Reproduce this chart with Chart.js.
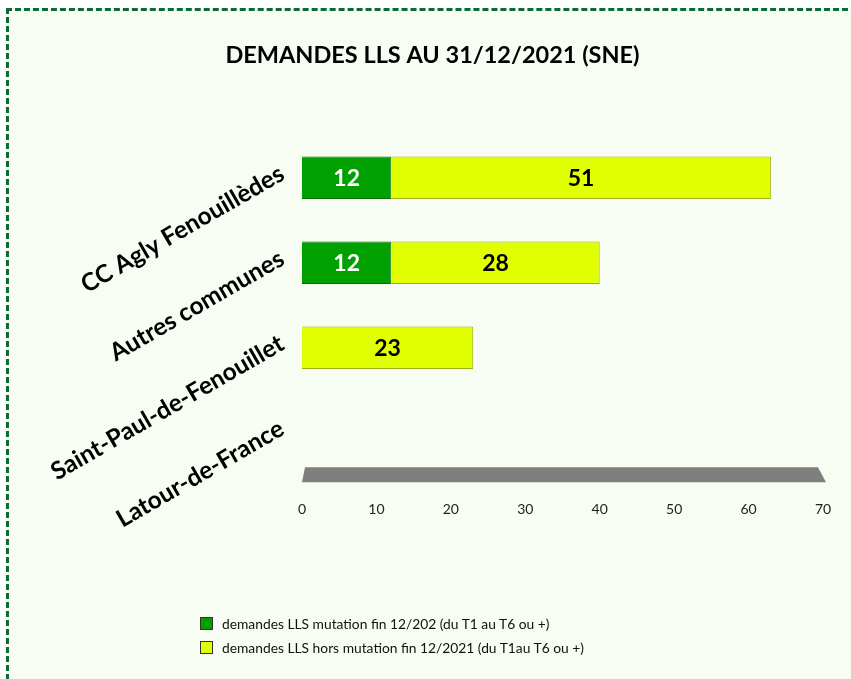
<!DOCTYPE html>
<html>
<head>
<meta charset="utf-8">
<script src="https://cdn.jsdelivr.net/npm/chart.js@4/dist/chart.umd.min.js"></script>
<style>
  html, body { margin:0; padding:0; background:#ffffff; }
  #frame {
    position:absolute; left:6px; top:8px; width:860px; height:690px;
    border:3px dashed #0a6b35; background:#f8fdf3; box-sizing:border-box;
  }
  #wrap { position:absolute; left:0; top:0; width:851px; height:679px; }
  #legend {
    position:absolute; left:200px; top:611px;
    font-family:Lato, "Open Sans", sans-serif; font-size:13.8px; color:#111;
  }
  #legend .item { display:flex; align-items:center; height:24px; }
  #legend .box { width:11px; height:11px; border:1px solid #333; margin-right:9px; }
</style>
</head>
<body>
<div id="frame"></div>
<div id="wrap"><canvas id="chart" width="851" height="679"></canvas></div>
<div id="legend"></div>
<script>
// ── data ──────────────────────────────────────────────────────────────
const categories   = ['CC Agly Fenouillèdes', 'Autres communes', 'Saint-Paul-de-Fenouillet', 'Latour-de-France'];
const mutation     = [12, 12, 0, 0];
const horsMutation = [51, 28, 23, 0];
const seriesNames  = [
  'demandes LLS mutation fin 12/202 (du T1 au T6 ou +)',
  'demandes LLS hors mutation fin 12/2021 (du T1au T6 ou +)'
];
const xTicks = [0, 10, 20, 30, 40, 50, 60, 70];

const GREEN  = '#00a000';
const YELLOW = '#e0ff00';
const FONT   = 'Lato, "Open Sans", sans-serif';

// grey 3D floor under the bars
const floorPlugin = {
  id: 'floor',
  beforeDatasetsDraw(chart) {
    const { ctx, chartArea } = chart;
    const x = chart.scales.x;
    const x0 = x.getPixelForValue(xTicks[0]);
    const x1 = x.getPixelForValue(xTicks[xTicks.length - 1]);
    const b = chartArea.bottom;
    ctx.save();
    ctx.fillStyle = '#7f7f7f';
    ctx.beginPath();
    ctx.moveTo(x0 + 3, b - 8);
    ctx.lineTo(x1 - 5, b - 8);
    ctx.lineTo(x1 + 3, b + 7);
    ctx.lineTo(x0, b + 7);
    ctx.closePath();
    ctx.fill();
    ctx.restore();
  }
};

// value labels centred in each segment
const valuePlugin = {
  id: 'values',
  afterDatasetsDraw(chart) {
    const { ctx } = chart;
    ctx.save();
    ctx.font = 'bold 23px ' + FONT;
    ctx.textAlign = 'center';
    ctx.textBaseline = 'middle';
    chart.data.datasets.forEach((ds, di) => {
      chart.getDatasetMeta(di).data.forEach((bar, i) => {
        const v = ds.data[i];
        if (!v) return;
        ctx.fillStyle = di === 0 ? '#ffffff' : '#000000';
        ctx.fillText(v, (bar.x + bar.base) / 2, bar.y + 1);
      });
    });
    ctx.restore();
  }
};

const chart = new Chart(document.getElementById('chart'), {
  type: 'bar',
  data: {
    labels: categories,
    datasets: [
      { label: seriesNames[0], data: mutation, backgroundColor: GREEN,
        borderColor: '#0b6a0b', borderWidth: 1 },
      { label: seriesNames[1], data: horsMutation, backgroundColor: YELLOW,
        borderColor: '#9fae1a', borderWidth: 1 }
    ]
  },
  options: {
    indexAxis: 'y',
    responsive: false,
    animation: false,
    categoryPercentage: 1,
    barPercentage: 0.5,
    layout: { padding: { left: 42, right: 28, top: 0, bottom: 135 } },
    plugins: {
      legend: { display: false },
      tooltip: { enabled: false },
      title: {
        display: true,
        text: 'DEMANDES LLS AU 31/12/2021 (SNE)',
        color: '#000',
        font: { family: FONT, size: 23.5, weight: 'bold' },
        padding: { top: 41, bottom: 66 }
      }
    },
    scales: {
      x: {
        stacked: true, min: 0, max: 70,
        grid: { display: false, drawTicks: false },
        border: { display: false },
        afterBuildTicks: s => { s.ticks = xTicks.map(v => ({ value: v })); },
        afterFit: s => { s.paddingLeft = 0; s.paddingRight = 0; },
        ticks: { color: '#222', padding: 26, font: { family: FONT, size: 14 } }
      },
      y: {
        stacked: true,
        grid: { display: false, drawTicks: false },
        border: { display: false },
        afterFit: s => { s.width = 260; s.paddingTop = 0; s.paddingBottom = 0; },
        ticks: {
          color: '#000', padding: 20, minRotation: 30, maxRotation: 30, labelOffset: -6,
          font: { family: FONT, size: 24.5, weight: 'bold' }
        }
      }
    }
  },
  plugins: [floorPlugin, valuePlugin]
});

// legend (one item per line)
const leg = document.getElementById('legend');
chart.data.datasets.forEach(ds => {
  const row = document.createElement('div');
  row.className = 'item';
  row.innerHTML = `<span class="box" style="background:${ds.backgroundColor}"></span>${ds.label}`;
  leg.appendChild(row);
});
</script>
</body>
</html>
